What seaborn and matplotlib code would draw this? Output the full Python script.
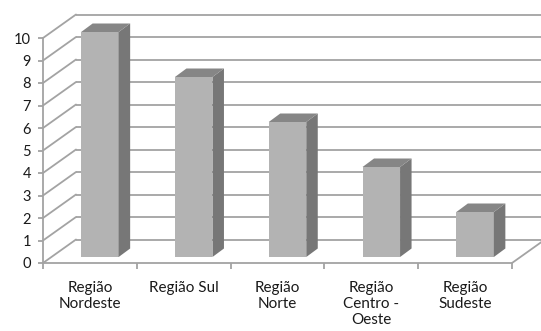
import matplotlib
matplotlib.use("Agg")
import matplotlib.pyplot as plt
import seaborn as sns
import pandas as pd
from matplotlib.transforms import ScaledTranslation
from matplotlib.patches import Polygon

# ---- data ----
categories = ["Região\nNordeste", "Região Sul", "Região\nNorte", "Região\nCentro -\nOeste", "Região\nSudeste"]
values = [10, 8, 6, 4, 2]
yticks = list(range(0, 11))

# ---- style ----
sns.set_theme(style="white")
plt.rcParams["font.family"] = ["Lato", "DejaVu Sans"]

W, H, DPI = 541, 331, 100
fig = plt.figure(figsize=(W / DPI, H / DPI), dpi=DPI)
fig.patch.set_facecolor("white")

# front plane of the 3D box (pixel coords in image space)
fx0, fx1, fy0, fy1 = 43, 512, 263, 38
ax = fig.add_axes([fx0 / W, 1 - fy0 / H, (fx1 - fx0) / W, (fy0 - fy1) / H])
ax.set_facecolor("none")

df = pd.DataFrame({"cat": categories, "val": values})
sns.barplot(data=df, x="cat", y="val", ax=ax, color="#b3b3b3", width=0.4,
            saturation=1, edgecolor="none", zorder=3)
ax.set_xlim(-0.5, len(categories) - 0.5)
ax.set_ylim(0, max(yticks))
ax.set_xlabel("")
ax.set_ylabel("")

grid_c = "#a3a3a3"
lw = 1.3

# depth offsets (in pixels -> data units)
px_x = (fx1 - fx0) / len(categories)
px_y = (fy0 - fy1) / (max(yticks) - min(yticks))
wall_dx, wall_dy = 33 / px_x, 23.5 / px_y
xl, xr = ax.get_xlim()

# back wall gridlines + left wall diagonals
for y in yticks:
    ax.plot([xl + wall_dx, xr + wall_dx], [y + wall_dy, y + wall_dy], color=grid_c,
            lw=lw, clip_on=False, zorder=1, solid_capstyle="butt")
    ax.plot([xl, xl + wall_dx], [y, y + wall_dy], color=grid_c, lw=lw,
            clip_on=False, zorder=1)
# floor right diagonal
ax.plot([xr, xr + wall_dx], [0, wall_dy], color=grid_c, lw=lw, clip_on=False, zorder=1)

# bars: shift to mid-depth and add side/top faces
front_off = ScaledTranslation(10 / DPI, 6 / DPI, fig.dpi_scale_trans)
bar_dx, bar_dy = 11.5 / px_x, 8.5 / px_y
for p in ax.patches:
    p.set_transform(ax.transData + front_off)
    x, w, h = p.get_x(), p.get_width(), p.get_height()
    side = Polygon([(x + w, 0), (x + w, h), (x + w + bar_dx, h + bar_dy), (x + w + bar_dx, bar_dy)],
                   closed=True, facecolor="#777777", edgecolor="none",
                   transform=ax.transData + front_off, zorder=3, clip_on=False)
    top = Polygon([(x, h), (x + w, h), (x + w + bar_dx, h + bar_dy), (x + bar_dx, h + bar_dy)],
                  closed=True, facecolor="#868686", edgecolor="none",
                  transform=ax.transData + front_off, zorder=3, clip_on=False)
    ax.add_patch(side)
    ax.add_patch(top)
    p.set_clip_on(False)

# axes styling
for s in ["top", "right"]:
    ax.spines[s].set_visible(False)
for s in ["left", "bottom"]:
    ax.spines[s].set_color(grid_c)
    ax.spines[s].set_linewidth(lw)
    ax.spines[s].set_zorder(2)

ax.set_yticks(yticks)
ax.set_yticklabels([str(v) for v in yticks])
ax.tick_params(axis="y", direction="out", length=3.6, width=lw, color=grid_c,
               labelsize=10.5, labelcolor="#1a1a1a", pad=5, left=True)
ax.set_xticks(range(len(categories)))
ax.set_xticklabels(categories, linespacing=1.2)
ax.tick_params(axis="x", which="major", length=0, labelsize=11,
               labelcolor="#1a1a1a", pad=13)
ax.set_xticks([i - 0.5 for i in range(len(categories) + 1)], minor=True)
ax.tick_params(axis="x", which="minor", direction="out", length=4, width=lw,
               color=grid_c, bottom=True)

fig.savefig("out.png", dpi=DPI, facecolor="white")
